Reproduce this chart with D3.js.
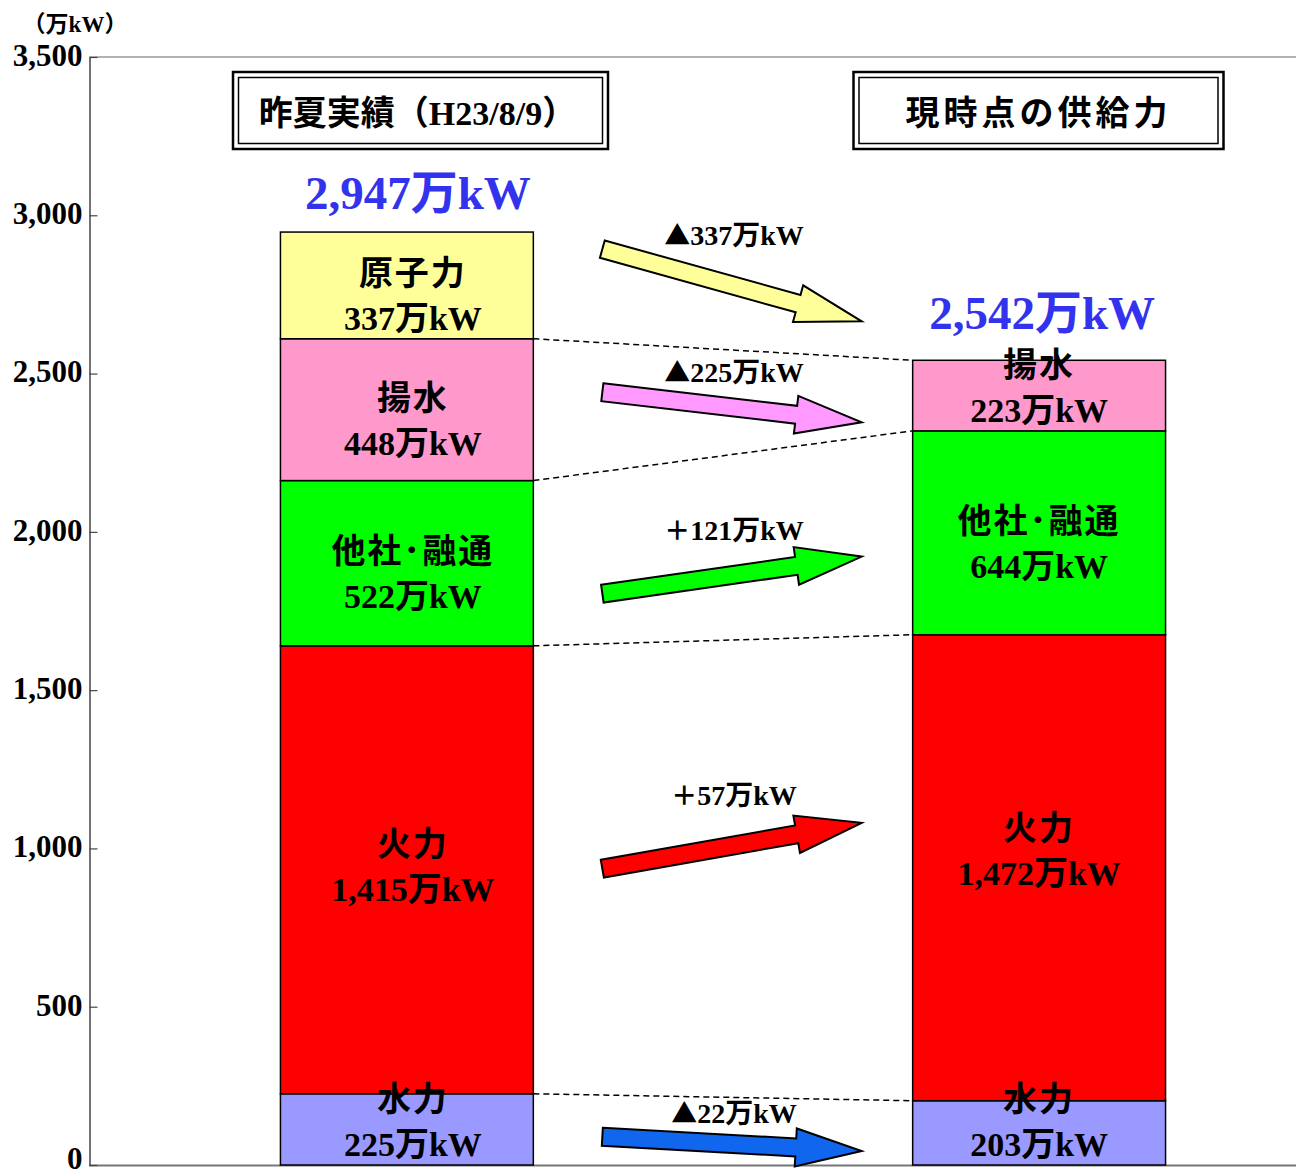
<!DOCTYPE html>
<html><head><meta charset="utf-8">
<script src="https://cdn.jsdelivr.net/npm/d3@7"></script>
<style>body{margin:0;background:#fff}</style>
</head><body>
<svg id="c" width="1296" height="1175"></svg>
<script>
// ---- data ----
const bars = ["昨夏実績（H23/8/9）", "現時点の供給力"];
const segments = ["水力", "火力", "他社・融通", "揚水", "原子力"];
const lastSummer = [225, 1415, 522, 448, 337];
const current = [203, 1472, 644, 223, 0];
const totals = [2947, 2542];
const segLabels = ["水力", "火力", "他社･融通", "揚水", "原子力"];
const changeSigns = ["▲", "＋", "＋", "▲", "▲"];
const changeValues = [22, 57, 121, 225, 337];
const arrowFrom = [89, 936, 1805, 2441, 2893];
const arrowTo = [44, 1081, 1922, 2346, 2665];
const yTicks = [0, 500, 1000, 1500, 2000, 2500, 3000, 3500];
const unitLabel = "（万kW）";

const colors = ["#9999ff", "#ff0000", "#00ff00", "#ff99cc", "#ffff99"];
const arrowColors = ["#1166ee", "#ff0000", "#00ff00", "#ff99ff", "#ffff99"];
const FONT = "'Liberation Serif','Noto Sans CJK JP',serif";
const JFONT = "'Noto Sans CJK JP','Noto Sans',sans-serif";

const svg = d3.select("#c");
svg.append("rect").attr("width",1296).attr("height",1175).attr("fill","#fff");

const y = d3.scaleLinear().domain([0, 3500]).range([1165, 57]);
const x = d3.scaleBand().domain(bars).range([154, 1292]).paddingInner(0.6).paddingOuter(0.2);

// frame lines
svg.append("line").attr("x1",89).attr("x2",1296).attr("y1",y(3500)).attr("y2",y(3500))
  .attr("stroke","#666").attr("stroke-width",1.2);
svg.append("line").attr("x1",89).attr("x2",1296).attr("y1",y(0)+0.5).attr("y2",y(0)+0.5)
  .attr("stroke","#777").attr("stroke-width",2);

// axis
const ax = svg.append("g").attr("transform","translate(89.5,0)")
  .call(d3.axisLeft(y).tickValues(yTicks).tickFormat(d3.format(",")).tickSizeInner(-8).tickSizeOuter(0).tickPadding(7));
ax.select(".domain").attr("stroke","#444").attr("stroke-width",1.5);
ax.selectAll(".tick line").attr("stroke","#444").attr("stroke-width",1.2);
ax.selectAll(".tick text").attr("font-family",FONT).attr("font-weight","bold")
  .attr("font-size",31).attr("fill","#000").attr("dy", d => d === 0 ? "0.12em" : "0.27em");

svg.append("text").attr("x",75).attr("y",32).attr("text-anchor","middle")
  .attr("font-family",FONT).attr("font-weight","bold").attr("font-size",23).text(unitLabel);

// stacks
const series = [lastSummer, current];
const stacks = series.map(vals => {
  let c = 0;
  return vals.map((v,i) => { const s = {i, y0:c, y1:c+v, v}; c += v; return s; });
});

// connectors (top of each segment present on both sides)
const conn = [];
for (let i = 0; i < segments.length; i++) {
  if (current[i] > 0) conn.push([stacks[0][i].y1, stacks[1][i].y1]);
}
svg.append("g").selectAll("line").data(conn).join("line")
  .attr("x1", x(bars[0]) + x.bandwidth()).attr("x2", x(bars[1]))
  .attr("y1", d => y(d[0])).attr("y2", d => y(d[1]))
  .attr("stroke","#000").attr("stroke-width",1.5).attr("stroke-dasharray","6,4");

// bars
stacks.forEach((st, b) => {
  const g = svg.append("g");
  g.selectAll("rect").data(st.filter(s => s.v > 0)).join("rect")
    .attr("x", x(bars[b])).attr("width", x.bandwidth())
    .attr("y", d => y(d.y1)).attr("height", d => y(d.y0) - y(d.y1))
    .attr("fill", d => colors[d.i]).attr("stroke","#000").attr("stroke-width",1.5);
  const cx = x(bars[b]) + x.bandwidth()/2 + (b === 0 ? 6 : 0);
  st.filter(s => s.v > 0).forEach(s => {
    const mid = (y(s.y0) + y(s.y1)) / 2;
    let l1 = mid + (s.i === 1 ? -14 : 0) + (b===1 && s.i===1 ? -14 : 0);
    let l2 = l1 + 45;
    const lim = y(s.y0) - 9;
    if (l2 > lim) { l2 = lim; l1 = l2 - 45; }
    g.append("text").attr("x", cx).attr("y", l1).attr("text-anchor","middle")
      .attr("font-family", JFONT).attr("font-weight","bold").attr("font-size",34)
      .attr("letter-spacing", 2).text(segLabels[s.i]);
    g.append("text").attr("x", cx).attr("y", l2).attr("text-anchor","middle")
      .attr("font-family", FONT).attr("font-weight","bold").attr("font-size",34)
      .text(d3.format(",")(s.v) + "万kW");
  });
  // total
  g.append("text").attr("x", cx + (b===0 ? 5 : 3)).attr("y", y(totals[b]) - (b===0 ? 23 : 31))
    .attr("text-anchor","middle").attr("font-family",FONT).attr("font-weight","bold")
    .attr("font-size",47).attr("fill","#3333ee").text(d3.format(",")(totals[b]) + "万kW");
});

// title boxes
const titleCenters = [420.5, 1038.5];
const titleWidths = [375, 370];
bars.forEach((t, b) => {
  const g = svg.append("g");
  const x0 = titleCenters[b] - titleWidths[b]/2;
  g.append("rect").attr("x", x0).attr("y", 72).attr("width", titleWidths[b]).attr("height", 77)
    .attr("fill","#fff").attr("stroke","#000").attr("stroke-width",2.5);
  g.append("rect").attr("x", x0+5.5).attr("y", 77.5).attr("width", titleWidths[b]-11).attr("height", 66)
    .attr("fill","none").attr("stroke","#000").attr("stroke-width",1.5);
  g.append("text").attr("x", titleCenters[b] - (b===0 ? 3 : 0)).attr("y", 125).attr("text-anchor","middle")
    .attr("font-family", b===0 ? FONT : JFONT).attr("font-weight","bold").attr("font-size",34)
    .attr("letter-spacing", b===0 ? 0 : 4).text(t);
});

// arrows
const ax0 = x(bars[0]) + x.bandwidth() + 69;
const ax1 = x(bars[1]) - 51;
const sw = 9, hw = 19, hl = 66;
const labelLift = [21, 41, 35, 25, 40];
segments.forEach((s, i) => {
  const p0 = [ax0, y(arrowFrom[i])], p1 = [ax1, y(arrowTo[i])];
  const dx = p1[0]-p0[0], dy = p1[1]-p0[1];
  const L = Math.hypot(dx, dy), ang = Math.atan2(dy, dx) * 180 / Math.PI;
  const pts = [[0,-sw],[L-hl,-sw],[L-hl,-hw],[L,0],[L-hl,hw],[L-hl,sw],[0,sw]];
  svg.append("polygon")
    .attr("points", pts.map(p => p.join(",")).join(" "))
    .attr("transform", `translate(${p0[0]},${p0[1]}) rotate(${ang})`)
    .attr("fill", arrowColors[i]).attr("stroke","#000").attr("stroke-width",2).attr("stroke-linejoin","miter");
  const my = (p0[1] + p1[1]) / 2;
  const t = svg.append("text").attr("x", (p0[0]+p1[0])/2 + 2).attr("y", my - labelLift[i])
    .attr("text-anchor","middle").attr("font-family",FONT).attr("font-weight","bold")
    .attr("font-size",28);
  t.append("tspan").attr("font-family",JFONT).attr("font-size",26).text(changeSigns[i]);
  t.append("tspan").text(changeValues[i] + "万kW");
});
</script>
</body></html>
